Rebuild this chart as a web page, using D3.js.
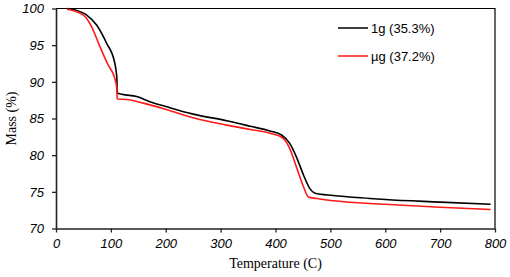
<!DOCTYPE html>
<html>
<head>
<meta charset="utf-8">
<script src="https://cdn.jsdelivr.net/npm/d3@7"></script>
<style>
  html, body { margin: 0; padding: 0; background: #fff; }
  svg { display: block; }
</style>
</head>
<body>
<svg id="chart" width="510" height="277"></svg>
<script>
// ---- data ----
const xTicks = [0, 100, 200, 300, 400, 500, 600, 700, 800];
const yTicks = [70, 75, 80, 85, 90, 95, 100];
const seriesNames = ["1g (35.3%)", "\u00b5g (37.2%)"];
const seriesColors = ["#000000", "#ff1a1a"];
const temp1g = [20, 35, 56, 74, 92, 107, 110, 111, 111.5, 120, 147, 171, 202, 250, 311, 354, 390, 411, 426, 439, 451, 463, 472, 505, 572, 600, 700, 792];
const mass1g = [100, 99.8, 99.1, 97.75, 95.3, 92.6, 91.2, 90.4, 88.5, 88.3, 88.0, 87.3, 86.6, 85.6, 84.7, 83.95, 83.3, 82.75, 81.6, 79.6, 77.3, 75.4, 74.8, 74.5, 74.1, 73.95, 73.6, 73.3];
const tempUg = [20, 50, 65, 80, 95, 107, 110, 111, 111.5, 129, 159, 202, 250, 311, 354, 390, 414, 426, 439, 451, 460, 475, 572, 600, 700, 792];
const massUg = [99.9, 99.1, 97.5, 94.8, 92.3, 90.5, 89.5, 88.8, 87.65, 87.6, 87.1, 86.2, 85.1, 84.1, 83.5, 83.0, 82.3, 80.9, 78.2, 75.7, 74.3, 74.1, 73.4, 73.3, 72.9, 72.6];

const series = [
  temp1g.map((t, i) => [t, mass1g[i]]),
  tempUg.map((t, i) => [t, massUg[i]])
];

const svg = d3.select("#chart");
const mLeft = 56, mRight = 495, mTop = 8.5, mBottom = 228.5;

const x = d3.scaleLinear().domain([0, 800]).range([mLeft, mRight]);
const y = d3.scaleLinear().domain([70, 100]).range([mBottom, mTop]);

// frame (top & right)
svg.append("path")
  .attr("d", `M${mLeft},${mTop}H${mRight}V${mBottom}`)
  .attr("fill", "none").attr("stroke", "#000").attr("stroke-width", 1.2);

// axes
const xAxis = svg.append("g").attr("transform", `translate(0,${mBottom})`)
  .call(d3.axisBottom(x).tickValues(xTicks).tickSize(4).tickSizeOuter(0).tickPadding(6));
const yAxis = svg.append("g").attr("transform", `translate(${mLeft},0)`)
  .call(d3.axisLeft(y).tickValues(yTicks).tickSize(4).tickSizeOuter(0).tickPadding(8));

[xAxis, yAxis].forEach(a => {
  a.select(".domain").attr("stroke", "#222").attr("stroke-width", 1.6);
  a.selectAll(".tick line").attr("stroke", "#222").attr("stroke-width", 1.3);
  a.selectAll(".tick text")
    .attr("fill", "#000")
    .style("font-family", "'Liberation Sans', Arial, sans-serif")
    .style("font-style", "italic")
    .style("font-size", "13px");
});

// lines
const line = d3.line().x(d => x(d[0])).y(d => y(d[1])).curve(d3.curveMonotoneX);
series.forEach((s, i) => {
  svg.append("path").datum(s)
    .attr("d", line)
    .attr("fill", "none")
    .attr("stroke", seriesColors[i])
    .attr("stroke-width", 1.6)
    .attr("stroke-linejoin", "round");
});

// axis titles
svg.append("text")
  .attr("x", (mLeft + mRight) / 2).attr("y", 268)
  .attr("text-anchor", "middle")
  .style("font-family", "'Liberation Serif', 'Times New Roman', serif")
  .style("font-size", "14px")
  .text("Temperature (C)");

svg.append("text")
  .attr("transform", `translate(16,${(mTop + mBottom) / 2}) rotate(-90)`)
  .attr("text-anchor", "middle")
  .style("font-family", "'Liberation Serif', 'Times New Roman', serif")
  .style("font-size", "14px")
  .text("Mass (%)");

// legend
const legendY = [28, 56];
seriesNames.forEach((name, i) => {
  svg.append("line")
    .attr("x1", 338).attr("x2", 368)
    .attr("y1", legendY[i]).attr("y2", legendY[i])
    .attr("stroke", seriesColors[i]).attr("stroke-width", 1.5);
  svg.append("text")
    .attr("x", 371).attr("y", legendY[i])
    .attr("dy", "0.35em")
    .style("font-family", "'Liberation Sans', Arial, sans-serif")
    .style("font-size", "13px")
    .text(name);
});
</script>
</body>
</html>
